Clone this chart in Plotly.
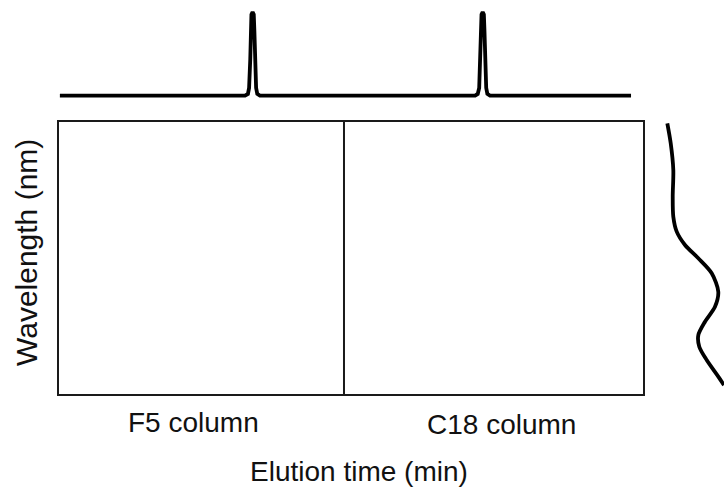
import plotly.graph_objects as go

# ---- data ----
# combined chromatogram (F5 column then C18 column), elution time in min
elution_time = [0.03, 6.37, 6.47, 6.51, 6.55, 6.57, 6.59, 6.63, 6.67, 6.69, 6.71, 6.75, 6.79, 6.88,
                14.25, 14.34, 14.39, 14.43, 14.45, 14.47, 14.51, 14.55, 14.57, 14.59, 14.63, 14.67, 14.76,
                19.59]
intensity = [0.0, 0.0, 0.02, 0.09, 0.42, 0.76, 0.94, 0.97, 0.94, 0.76, 0.42, 0.09, 0.02, 0.0,
             0.0, 0.02, 0.09, 0.42, 0.76, 0.94, 0.97, 0.94, 0.76, 0.42, 0.09, 0.02, 0.0,
             0.0]
time_range = [0, 20]
column_boundary = 9.76  # min, where F5 segment ends and C18 begins

# UV spectrum (wavelength in nm vs absorbance)
wavelength = [201.0, 215.7, 235.3, 254.9, 269.6, 280.6, 290.4, 300.2, 311.2, 324.8,
              335.8, 346.8, 356.6, 365.2, 375.0, 387.2, 393.4]
absorbance = [0.234, 0.280, 0.315, 0.307, 0.315, 0.361, 0.473, 0.653, 0.834, 0.923,
              0.878, 0.743, 0.653, 0.666, 0.766, 0.923, 1.0]

column_labels = ["F5 column", "C18 column"]
x_title = "Elution time (min)"
y_title = "Wavelength (nm)"

W, H = 724, 488
def px(x):
    return x / W
def py(y):
    return 1 - y / H

FONT = "Liberation Sans, Arial, sans-serif"
INK = "#111111"

fig = go.Figure()

# chromatogram on top
fig.add_trace(go.Scatter(x=elution_time, y=intensity, mode="lines",
                         line=dict(color="#000000", width=3.8),
                         xaxis="x2", yaxis="y2", hoverinfo="skip", showlegend=False))

# spectrum on the right
fig.add_trace(go.Scatter(x=absorbance, y=wavelength, mode="lines",
                         line=dict(color="#000000", width=3.8, shape="spline", smoothing=0.8),
                         xaxis="x3", yaxis="y3", hoverinfo="skip", showlegend=False))

# empty main box (invisible trace to set axes)
fig.add_trace(go.Scatter(x=[None], y=[None], xaxis="x", yaxis="y", showlegend=False))

box_axis = dict(showline=True, mirror=True, linecolor="#1a1a1a", linewidth=2,
                showgrid=False, zeroline=False, showticklabels=False, ticks="")
hidden = dict(visible=False, showgrid=False, zeroline=False)

fig.update_layout(
    width=W, height=H,
    margin=dict(l=0, r=0, t=0, b=0),
    paper_bgcolor="white", plot_bgcolor="rgba(0,0,0,0)",
    xaxis=dict(domain=[px(59), px(643)], range=time_range, **box_axis),
    yaxis=dict(domain=[py(394), py(122)], range=[0, 1], **box_axis),
    xaxis2=dict(domain=[px(59), px(643)], range=time_range, anchor="y2", **hidden),
    yaxis2=dict(domain=[py(100), py(5)], range=[-0.05, 1.05], anchor="x2", **hidden),
    xaxis3=dict(domain=[px(650), 1.0], range=[0, 1], anchor="y3", **hidden),
    yaxis3=dict(domain=[py(398), py(118)], range=[402.9, 197.06], anchor="x3", **hidden),
    shapes=[dict(type="line", xref="x", yref="y domain", x0=column_boundary, x1=column_boundary,
                 y0=0, y1=1, line=dict(color="#1a1a1a", width=2))],
    annotations=[
        dict(text=column_labels[0], x=px(193), y=py(422), xref="paper", yref="paper",
             showarrow=False, xanchor="center", yanchor="middle",
             font=dict(family=FONT, size=28, color=INK)),
        dict(text=column_labels[1], x=px(501), y=py(424), xref="paper", yref="paper",
             showarrow=False, xanchor="center", yanchor="middle",
             font=dict(family=FONT, size=28, color=INK)),
        dict(text=x_title, x=px(359), y=0, xref="paper", yref="paper",
             showarrow=False, xanchor="center", yanchor="bottom", borderpad=0,
             font=dict(family=FONT, size=28, color=INK)),
        dict(text=y_title, x=px(26), y=py(253), xref="paper", yref="paper",
             showarrow=False, xanchor="center", yanchor="middle", textangle=-90,
             font=dict(family=FONT, size=30, color=INK)),
    ],
)

fig.write_html("out.html")
